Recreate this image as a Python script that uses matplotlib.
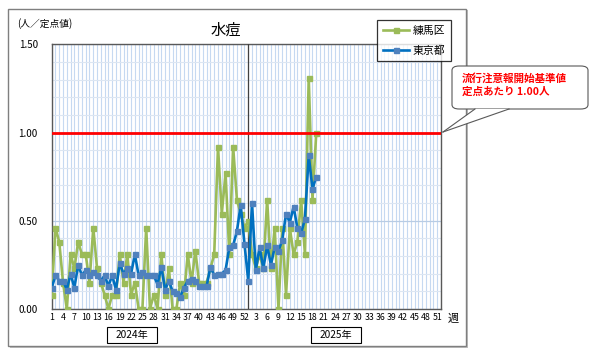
import numpy as np
import matplotlib
matplotlib.use('Agg')
import matplotlib.pyplot as plt
from matplotlib.patches import Rectangle, FancyBboxPatch, Polygon
from matplotlib.lines import Line2D
from matplotlib.ticker import MultipleLocator, FixedLocator

plt.rcParams['font.family'] = ['Noto Sans CJK JP', 'DejaVu Sans']

# weeks: 2024 wk1-52, then 2025 wk1-52
weeks_2024 = list(range(1, 53))
weeks_2025 = list(range(1, 53))
week_labels = weeks_2024 + weeks_2025

# 練馬区 (per sentinel), 2024 wk1 .. 2025 wk19
nerima = [0.08, 0.46, 0.38, 0.15, 0.00, 0.31, 0.23, 0.38, 0.31, 0.31,
          0.15, 0.46, 0.23, 0.15, 0.08, 0.00, 0.08, 0.08, 0.31, 0.15,
          0.31, 0.08, 0.15, 0.00, 0.00, 0.46, 0.00, 0.08, 0.00, 0.31,
          0.08, 0.23, 0.00, 0.00, 0.15, 0.08, 0.31, 0.15, 0.33, 0.15,
          0.15, 0.15, 0.23, 0.31, 0.92, 0.54, 0.77, 0.31, 0.92, 0.62,
          0.54, 0.46, 0.50, 0.31, 0.23, 0.31, 0.23, 0.62, 0.23, 0.46,
          0.00, 0.46, 0.08, 0.46, 0.31, 0.38, 0.62, 0.31, 1.31, 0.62,
          1.00]

# 東京都 (per sentinel)
tokyo = [0.12, 0.19, 0.16, 0.16, 0.11, 0.20, 0.12, 0.25, 0.19, 0.22,
         0.19, 0.21, 0.19, 0.16, 0.19, 0.13, 0.19, 0.11, 0.26, 0.20,
         0.23, 0.20, 0.31, 0.19, 0.21, 0.19, 0.19, 0.19, 0.14, 0.24,
         0.11, 0.16, 0.10, 0.09, 0.07, 0.12, 0.16, 0.17, 0.16, 0.13,
         0.13, 0.13, 0.24, 0.19, 0.20, 0.20, 0.22, 0.35, 0.36, 0.44,
         0.59, 0.37, 0.16, 0.60, 0.22, 0.35, 0.23, 0.36, 0.25, 0.35,
         0.33, 0.39, 0.54, 0.49, 0.58, 0.46, 0.43, 0.51, 0.87, 0.68,
         0.75]

threshold = 1.00
year_labels = ['2024年', '2025年']

green = '#9bbb59'
blue_line = '#0070c0'
blue_marker = '#4f81bd'

fig = plt.figure(figsize=(6, 3.61), dpi=100)
W, H = 600, 361


def fx(px):
    return px / W


def fy(py):
    return 1 - py / H


# outer chart frame with a small shadow
fig.patches.append(Rectangle((fx(10), fy(348)), 458 / W, 338 / H,
                             transform=fig.transFigure, fc='#bfbfbf', ec='none', zorder=0))
fig.patches.append(Rectangle((fx(8), fy(346)), 458 / W, 337 / H,
                             transform=fig.transFigure, fc='white', ec='#7f7f7f', lw=1, zorder=0.5))

ax = fig.add_axes([fx(51.7), fy(309), (441 - 51.7) / W, (309 - 44.3) / H])
ax.set_zorder(2)

x = np.arange(len(week_labels))
xn = np.arange(len(nerima))
xt = np.arange(len(tokyo))

ax.plot(xn, nerima, color=green, lw=1.9, marker='s', ms=3.6, mfc=green, mec=green,
        label='練馬区', zorder=4)
ax.plot(xt, tokyo, color=blue_line, lw=1.9, marker='s', ms=3.6, mfc=blue_marker, mec=blue_marker,
        label='東京都', zorder=5)

ax.axhline(threshold, color='#ff0000', lw=2, zorder=6)
ax.axvline(len(weeks_2024), color='#404040', lw=0.9, zorder=3)

ax.set_xlim(0, len(week_labels) - 1)
ax.set_ylim(0, 1.5)

ax.yaxis.set_major_locator(MultipleLocator(0.5))
ax.yaxis.set_minor_locator(MultipleLocator(0.1))
ax.set_yticklabels(['%.2f' % v for v in ax.get_yticks()])
ax.xaxis.set_major_locator(FixedLocator(x[::3]))
ax.set_xticklabels([str(week_labels[i]) for i in x[::3]])
ax.xaxis.set_minor_locator(MultipleLocator(1))

ax.grid(which='major', axis='y', color='#b8cce4', lw=0.9)
ax.grid(which='minor', axis='y', color='#dce6f2', lw=0.8)
ax.grid(which='both', axis='x', color='#c6d9f1', lw=0.8)
ax.set_axisbelow(True)

ax.tick_params(axis='both', which='both', length=0)
ax.tick_params(axis='x', labelsize=6.3, pad=3)
ax.tick_params(axis='y', labelsize=7, pad=10)
for s in ax.spines.values():
    s.set_color('#595959')
    s.set_linewidth(1)

fig.text(fx(17), fy(24), '(人／定点値)', fontsize=7, va='center', ha='left')
fig.text(fx(226), fy(30), '水痘', fontsize=11, va='center', ha='center')
fig.text(fx(453), fy(319), '週', fontsize=8, va='center', ha='center')

# year boxes under the axis
for (x0, x1), lab in zip([(107, 157), (311, 361)], year_labels):
    fig.patches.append(Rectangle((fx(x0), fy(343)), (x1 - x0) / W, 16 / H,
                                 transform=fig.transFigure, fc='white', ec='#000000',
                                 lw=0.8, zorder=1))
    fig.text(fx((x0 + x1) / 2), fy(335), lab, fontsize=7.3, ha='center', va='center', zorder=2)

leg = fig.legend(loc='upper left', bbox_to_anchor=(fx(377), fy(20)), fontsize=7.8,
                 frameon=True, fancybox=False, edgecolor='#000000', handlelength=2.4,
                 borderpad=0.55, labelspacing=0.85, handletextpad=0.3, borderaxespad=0)
leg.get_frame().set_linewidth(0.9)

# callout for the threshold line
fig.patches.append(FancyBboxPatch((fx(452), fy(109)), 136 / W, 43 / H,
                                  boxstyle='round,pad=0,rounding_size=0.012',
                                  transform=fig.transFigure, fc='white', ec='#595959',
                                  lw=0.8, zorder=3))
tip = (fx(443), fy(132))
base = [(fx(475), fy(109)), (fx(509), fy(109))]
fig.patches.append(Polygon([base[0], tip, base[1]], closed=True, transform=fig.transFigure,
                           fc='white', ec='none', zorder=3.1))
for b in base:
    fig.lines.append(Line2D([b[0], tip[0]], [b[1], tip[1]], transform=fig.transFigure,
                            color='#595959', lw=0.8, zorder=3.2))
fig.text(fx(462), fy(78), '流行注意報開始基準値', fontsize=7.6, color='#ff0000',
         fontweight='bold', ha='left', va='center', zorder=4)
fig.text(fx(462), fy(92), '定点あたり 1.00人', fontsize=7.6, color='#ff0000',
         fontweight='bold', ha='left', va='center', zorder=4)

fig.savefig('out.png', dpi=100)
